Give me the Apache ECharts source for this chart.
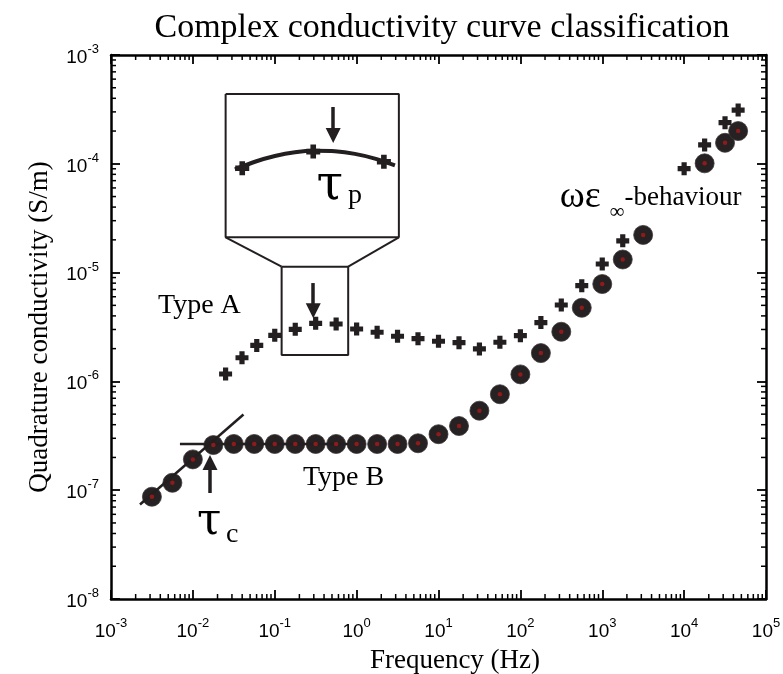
<!DOCTYPE html>
<html><head><meta charset="utf-8">
<script src="https://cdn.jsdelivr.net/npm/echarts@6/dist/echarts.min.js"></script>
<style>html,body{margin:0;padding:0;background:#fff}#c{width:783px;height:674px}</style>
</head><body><div id="c"></div>
<script>
// ---- data ----
const typeBFreq = [0.00316,0.00562,0.01,0.0178,0.0316,0.0562,0.1,0.178,0.316,0.562,1,1.78,3.16,5.62,10,17.8,31.6,56.2,100,178,316,562,1000,1780,3160,17800,31600,45700];
const typeBValue = [8.71e-8,1.17e-7,1.92e-7,2.60e-7,2.66e-7,2.66e-7,2.66e-7,2.66e-7,2.66e-7,2.66e-7,2.66e-7,2.66e-7,2.66e-7,2.70e-7,3.27e-7,3.89e-7,5.38e-7,7.62e-7,1.16e-6,1.82e-6,2.86e-6,4.75e-6,7.85e-6,1.32e-5,2.22e-5,1.01e-4,1.56e-4,2.00e-4];
const typeAFreq = [0.0251,0.0398,0.0603,0.1,0.178,0.316,0.562,1,1.78,3.16,5.62,10,17.8,31.6,56.2,100,178,316,562,1000,1780,10000,17800,31600,45700];
const typeAValue = [1.17e-6,1.65e-6,2.14e-6,2.65e-6,3.01e-6,3.42e-6,3.37e-6,3.03e-6,2.83e-6,2.60e-6,2.47e-6,2.34e-6,2.27e-6,1.99e-6,2.29e-6,2.63e-6,3.47e-6,5.04e-6,7.59e-6,1.20e-5,1.96e-5,9.02e-5,1.49e-4,2.39e-4,3.12e-4];
const xTickExponents = [-3,-2,-1,0,1,2,3,4,5];
const yTickExponents = [-8,-7,-6,-5,-4,-3];
const titleText = 'Complex conductivity curve classification';
const xName = 'Frequency (Hz)';
const yName = 'Quadrature conductivity (S/m)';

// ---- annotation geometry, in log10 data coordinates ----
const P = p => [Math.pow(10, p[0]), Math.pow(10, p[1])];
const annot = {
  tangent: [[-2.646,-7.131],[-1.382,-6.304]],
  plateau: [[-2.158,-6.575],[-0.103,-6.575]],
  smallBox: [[-0.916,-4.946],[-0.103,-4.946],[-0.103,-5.757],[-0.916,-5.757],[-0.916,-4.946]],
  bigBox: [[-1.600,-3.358],[0.516,-3.358],[0.516,-4.676],[-1.600,-4.676],[-1.600,-3.358]],
  connL: [[-1.600,-4.676],[-0.916,-4.946]],
  connR: [[0.516,-4.676],[-0.103,-4.946]],
  insetCurve: [[-1.486,-4.052],[-1.242,-3.981],[-0.998,-3.928],[-0.753,-3.894],[-0.509,-3.881],[-0.265,-3.885],[-0.021,-3.909],[0.223,-3.952],[0.468,-4.014]],
  insetPts: [[-1.397,-4.041],[-0.530,-3.888],[0.333,-3.981]],
  arrows: [
    [[-0.530,-5.096],[-0.530,-5.350]],
    [[-0.286,-3.478],[-0.286,-3.740]],
    [[-1.791,-7.026],[-1.791,-6.745]]
  ]
};

const xMin = 1e-3, xMax = 1e5, yMin = 1e-8, yMax = 1e-3;
const INK = '#231f20';
const serif = 'Liberation Serif';
const sans = 'Liberation Sans';
const plusPath = 'path://M3,0H7V3H10V7H7V10H3V7H0V3H3Z';

const minorX = [], minorY = [];
for (let e = -3; e < 5; e++) for (let m = 2; m <= 9; m++) minorX.push(m * Math.pow(10, e));
for (let e = -8; e < -3; e++) for (let m = 2; m <= 9; m++) minorY.push(m * Math.pow(10, e));

const supRich = {
  b: {fontFamily: sans, fontSize: 19, lineHeight: 24, color: '#000', verticalAlign: 'bottom'},
  s: {fontFamily: sans, fontSize: 13, lineHeight: 13, color: '#000', verticalAlign: 'top'}
};
const powLabel = v => '{b|10}{s|' + Math.round(Math.log10(v)) + '}';

function minorTicks(vals, dir) {
  return {
    type: 'custom', silent: true, z: 6, clip: false,
    data: vals.map(v => dir === 'x' ? [v, 1e-5] : [1, v]),
    renderItem(params, api) {
      const cs = params.coordSys;
      const p = api.coord([api.value(0), api.value(1)]);
      const L = 5, st = {stroke: '#000', lineWidth: 1.5};
      if (dir === 'x') {
        return {type: 'group', children: [
          {type: 'line', shape: {x1: p[0], y1: cs.y + cs.height, x2: p[0], y2: cs.y + cs.height - L}, style: st},
          {type: 'line', shape: {x1: p[0], y1: cs.y, x2: p[0], y2: cs.y + L}, style: st}
        ]};
      }
      return {type: 'group', children: [
        {type: 'line', shape: {x1: cs.x, y1: p[1], x2: cs.x + L, y2: p[1]}, style: st},
        {type: 'line', shape: {x1: cs.x + cs.width, y1: p[1], x2: cs.x + cs.width - L, y2: p[1]}, style: st}
      ]};
    }
  };
}

const lineSeries = (pts, w, extra) => Object.assign({
  type: 'line', data: pts.map(P), symbol: 'none', silent: true, z: 4,
  lineStyle: {color: INK, width: w, opacity: 1}, animation: false
}, extra || {});

const axisCommon = {
  type: 'log', logBase: 10,
  axisLine: {show: true, onZero: false, lineStyle: {color: '#000', width: 2.5}},
  axisTick: {show: true, inside: true, length: 9, lineStyle: {color: '#000', width: 1.8}},
  splitLine: {show: false}, minorTick: {show: false}
};

const chart = echarts.init(document.getElementById('c'), null, {renderer: 'canvas'});
const option = {
  animation: false,
  backgroundColor: '#fff',
  title: {
    text: titleText, left: 437, top: 6, textAlign: 'center',
    textStyle: {fontFamily: serif, fontSize: 34, fontWeight: 'normal', color: '#000'}
  },
  grid: {left: 111, top: 55, right: 17, bottom: 75, containLabel: false, outerBoundsMode: 'none'},
  xAxis: [
    Object.assign({}, axisCommon, {
      min: xMin, max: xMax, splitNumber: 8, position: 'bottom',
      name: xName, nameLocation: 'middle', nameGap: 48,
      nameTextStyle: {fontFamily: serif, fontSize: 27, color: '#000', padding: [0, 0, 0, 33]},
      axisLabel: {show: true, margin: 18, formatter: powLabel, rich: supRich, showMinLabel: true, showMaxLabel: true}
    }),
    Object.assign({}, axisCommon, {
      min: xMin, max: xMax, splitNumber: 8, position: 'top', axisLabel: {show: false}
    })
  ],
  yAxis: [
    Object.assign({}, axisCommon, {
      min: yMin, max: yMax, splitNumber: 5, position: 'left',
      name: yName, nameLocation: 'middle', nameGap: 58, nameRotate: 90,
      nameTextStyle: {fontFamily: serif, fontSize: 27, color: '#000', padding: [0, 0, 0, 0]},
      axisLabel: {show: true, margin: 12, formatter: powLabel, rich: supRich, showMinLabel: true, showMaxLabel: true}
    }),
    Object.assign({}, axisCommon, {
      min: yMin, max: yMax, splitNumber: 5, position: 'right', axisLabel: {show: false}
    })
  ],
  series: [
    minorTicks(minorX, 'x'),
    minorTicks(minorY, 'y'),
    {
      name: 'Type B', type: 'scatter', z: 3, silent: true,
      data: typeBFreq.map((f, i) => [f, typeBValue[i]]),
      symbol: 'circle', symbolSize: 19,
      itemStyle: {color: '#262122', opacity: 1, borderColor: '#3d3839', borderWidth: 0.8}
    },
    lineSeries(annot.tangent, 2.5, {markLine: {
      silent: true, symbol: ['none', 'triangle'], symbolSize: 15,
      label: {show: false}, lineStyle: {color: INK, width: 3.5, type: 'solid', opacity: 1},
      data: annot.arrows.map(a => [{coord: P(a[0])}, {coord: P(a[1])}])
    }}),
    lineSeries(annot.plateau, 2.5),
    {
      name: 'Type B centre', type: 'scatter', z: 5, silent: true,
      data: typeBFreq.map((f, i) => [f, typeBValue[i]]),
      symbol: 'circle', symbolSize: 4.5, itemStyle: {color: '#8e1b1b', opacity: 1}
    },
    {
      name: 'Type A', type: 'scatter', z: 3, silent: true,
      data: typeAFreq.map((f, i) => [f, typeAValue[i]]),
      symbol: plusPath, symbolSize: 13, itemStyle: {color: INK, opacity: 1}
    },
    lineSeries(annot.smallBox, 2),
    lineSeries(annot.bigBox, 2),
    lineSeries(annot.connL, 2),
    lineSeries(annot.connR, 2),
    lineSeries(annot.insetCurve, 4, {smooth: 0.3}),
    {
      name: 'inset', type: 'scatter', z: 5, silent: true,
      data: annot.insetPts.map(P), symbol: plusPath, symbolSize: 14, itemStyle: {color: INK, opacity: 1}
    }
  ]
};
chart.setOption(option);

// ---- annotation texts, anchored in data coordinates ----
const texts = [
  {pos: [-2.426, -5.305], text: 'Type A', size: 28, font: serif},
  {pos: [-0.656, -6.888], text: 'Type B', size: 28, font: serif},
  {pos: [-1.950, -7.294], text: 'τ', size: 44, font: 'DejaVu Serif'},
  {pos: [-1.596, -7.405], text: 'c', size: 28, font: serif},
  {pos: [-0.490, -4.207], text: 'τ', size: 48, font: 'DejaVu Serif'},
  {pos: [-0.106, -4.292], text: 'p', size: 28, font: serif},
  {pos: [2.482, -4.309], text: 'ωε', size: 38, font: serif},
  {pos: [3.090, -4.443], text: '∞', size: 21, font: serif},
  {pos: [3.273, -4.313], text: '-behaviour', size: 27, font: serif}
];
const graphic = texts.map(t => {
  const px = chart.convertToPixel({gridIndex: 0}, P(t.pos));
  return {
    type: 'text', x: px[0], y: px[1], silent: true, z: 20,
    style: {text: t.text, fontFamily: t.font, fontSize: t.size, fill: '#000', align: 'left', verticalAlign: 'middle'}
  };
});
chart.setOption({graphic: graphic});
</script>
</body></html>
